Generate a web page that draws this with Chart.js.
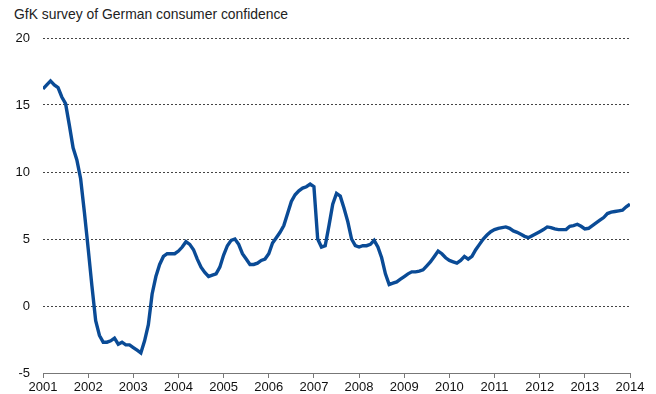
<!DOCTYPE html>
<html>
<head>
<meta charset="utf-8">
<script src="https://cdn.jsdelivr.net/npm/chart.js@4"></script>
<style>
    html, body { margin: 0; padding: 0; background: #fff; }
    .wrap { position: relative; width: 656px; height: 394px; }
    .chart-title {
        position: absolute; left: 14px; top: 6px;
        font-family: "Liberation Sans", Arial, sans-serif;
        font-size: 13.9px; color: #222;
    }
    canvas { position: absolute; left: 0; top: 0; }
</style>
</head>
<body>
<div class="wrap">
    <div class="chart-title">GfK survey of German consumer confidence</div>
    <canvas id="gfkChart" width="656" height="394"></canvas>
</div>
<script>
// monthly readings, Jan 2001 .. Jan 2014
const startYear = 2001;
const confidence = [
    16.2, 16.5, 16.8, 16.5, 16.3, 15.6, 15.1, 13.5, 11.8, 10.9, 9.5, 7.0,
    4.3, 1.5, -1.1, -2.2, -2.7, -2.7, -2.6, -2.4, -2.85, -2.7, -2.9, -2.9,
    -3.1, -3.3, -3.5, -2.6, -1.4, 0.9, 2.2, 3.1, 3.7, 3.9, 3.9, 3.9,
    4.1, 4.4, 4.8, 4.6, 4.2, 3.5, 2.9, 2.5, 2.2, 2.3, 2.4, 2.9,
    3.8, 4.5, 4.9, 5.0, 4.6, 3.9, 3.5, 3.1, 3.1, 3.2, 3.4, 3.5,
    3.9, 4.7, 5.1, 5.5, 6.0, 6.9, 7.8, 8.3, 8.6, 8.8, 8.9, 9.1,
    8.9, 5.0, 4.4, 4.5, 6.0, 7.6, 8.4, 8.2, 7.3, 6.3, 5.0, 4.5,
    4.4, 4.5, 4.5, 4.6, 4.9, 4.4, 3.6, 2.4, 1.6, 1.7, 1.8, 2.0,
    2.2, 2.4, 2.55, 2.55, 2.6, 2.7, 3.0, 3.3, 3.7, 4.1, 3.9, 3.6,
    3.4, 3.3, 3.2, 3.4, 3.7, 3.5, 3.7, 4.2, 4.6, 5.0, 5.3, 5.55,
    5.7, 5.8, 5.85, 5.9, 5.8, 5.6, 5.5, 5.35, 5.2, 5.1, 5.25, 5.4,
    5.55, 5.7, 5.9, 5.85, 5.75, 5.7, 5.7, 5.7, 5.95, 6.0, 6.1, 5.95,
    5.75, 5.8, 6.0, 6.2, 6.4, 6.6, 6.9, 7.0, 7.05, 7.1, 7.15, 7.4,
    7.6
];
const yearTicks = [2001, 2002, 2003, 2004, 2005, 2006, 2007, 2008, 2009, 2010, 2011, 2012, 2013, 2014];
const valueTicks = [-5, 0, 5, 10, 15, 20];

const points = confidence.map((v, i) => ({ x: startYear + i / 12, y: v }));

const ctx = document.getElementById('gfkChart').getContext('2d');
const gfkChart = new Chart(ctx, {
    type: 'line',
    data: {
        datasets: [{
            data: points,
            borderColor: '#0a4b96',
            borderWidth: 3.4,
            pointRadius: 0,
            tension: 0,
            fill: false
        }]
    },
    options: {
        responsive: false,
        animation: false,
        layout: { padding: { top: 38, right: 26, left: 0, bottom: 0 } },
        plugins: {
            legend: { display: false },
            tooltip: { enabled: false }
        },
        scales: {
            x: {
                type: 'linear',
                min: yearTicks[0],
                max: yearTicks[yearTicks.length - 1],
                afterBuildTicks: s => { s.ticks = yearTicks.map(v => ({ value: v })); },
                afterFit: s => { s.height = 21; },
                grid: { drawOnChartArea: false, drawTicks: true, tickLength: 5, color: '#777' },
                border: { display: true, color: '#777', width: 1 },
                ticks: {
                    padding: 2,
                    color: '#111',
                    font: { family: '"Liberation Sans", Arial, sans-serif', size: 13 },
                    callback: v => String(v),
                    maxRotation: 0
                }
            },
            y: {
                min: valueTicks[0],
                max: valueTicks[valueTicks.length - 1],
                afterBuildTicks: s => { s.ticks = valueTicks.map(v => ({ value: v })); },
                afterFit: s => { s.width = 43; },
                grid: {
                    drawTicks: false,
                    color: c => c.tick && c.tick.value === valueTicks[0] ? 'rgba(0,0,0,0)' : '#444',
                    lineWidth: 1
                },
                border: { display: false, dash: [2, 2] },
                ticks: {
                    padding: 13,
                    color: '#111',
                    font: { family: '"Liberation Sans", Arial, sans-serif', size: 13 }
                }
            }
        }
    }
});
</script>
</body>
</html>
